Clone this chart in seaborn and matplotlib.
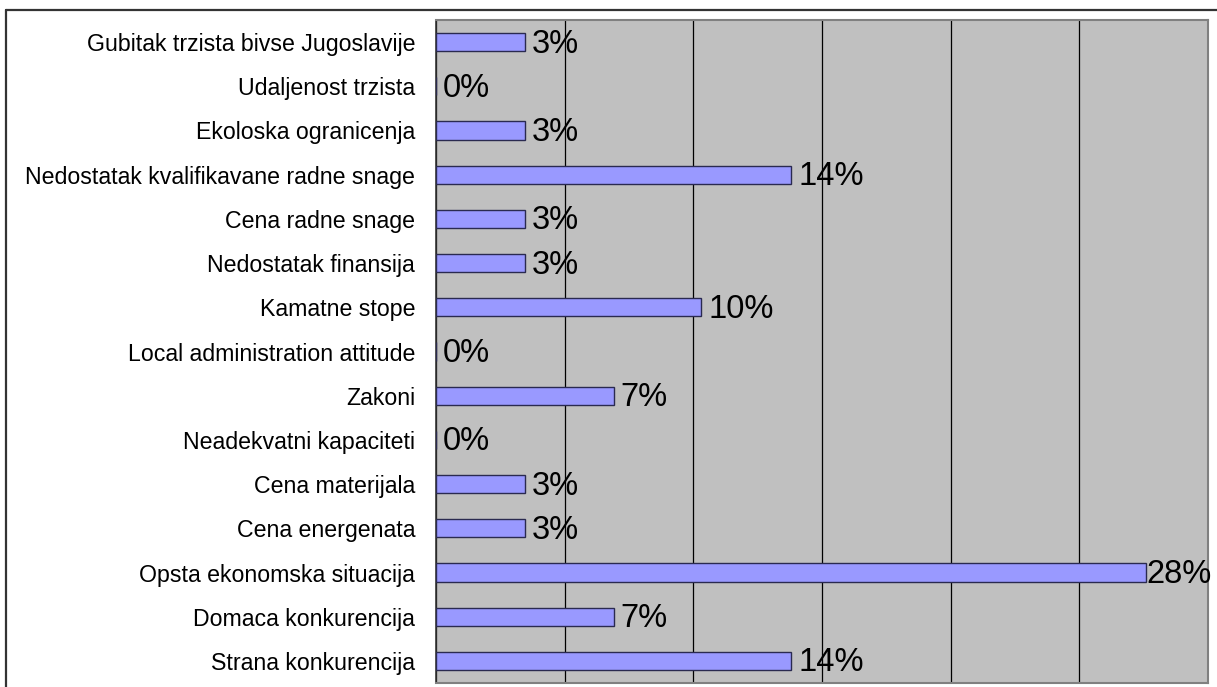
import pandas as pd
import seaborn as sns
import matplotlib.pyplot as plt
from matplotlib.lines import Line2D

# categories, top to bottom as in the chart
categories = [
    "Gubitak trzista bivse Jugoslavije",
    "Udaljenost trzista",
    "Ekoloska ogranicenja",
    "Nedostatak kvalifikavane radne snage",
    "Cena radne snage",
    "Nedostatak finansija",
    "Kamatne stope",
    "Local administration attitude",
    "Zakoni",
    "Neadekvatni kapaciteti",
    "Cena materijala",
    "Cena energenata",
    "Opsta ekonomska situacija",
    "Domaca konkurencija",
    "Strana konkurencija",
]
# percent of answers
percents = [3.45, 0, 3.45, 13.8, 3.45, 3.45, 10.3, 0, 6.9, 0, 3.45, 3.45, 27.6, 6.9, 13.8]
xticks = [0, 5, 10, 15, 20, 25, 30]

df = pd.DataFrame({"category": categories, "percent": percents})

sns.set_style("white")
plt.rcParams["font.family"] = ["Liberation Sans", "DejaVu Sans"]
plt.rcParams["text.color"] = "black"
plt.rcParams["ytick.labelcolor"] = "black"

W, H = 1217, 687
fig = plt.figure(figsize=(W / 100, H / 100), dpi=100)
ax = fig.add_axes([436 / W, 1 - 683 / H, (1208 - 436) / W, (683 - 20) / H])

sns.barplot(data=df, y="category", x="percent", order=categories, orient="h",
            color="#9999ff", saturation=1, width=0.41,
            edgecolor="#2a2a50", linewidth=1, ax=ax, zorder=3)

ax.set_facecolor("#c0c0c0")
ax.set_xlim(0, 30)
ax.set_ylim(len(categories) - 0.5, -0.5)
ax.set_xticks(xticks)
ax.set_xticklabels([])
ax.grid(axis="x", color="black", linewidth=0.9, zorder=1)
ax.tick_params(axis="x", length=0)
ax.set_xlabel("")
ax.set_ylabel("")

# y ticks at category boundaries, labels at centres
ax.set_yticks([i + 0.5 for i in range(-1, len(categories))], minor=True)
ax.tick_params(axis="y", which="minor", length=5, width=1, color="#333333", direction="out")
ax.tick_params(axis="y", which="major", length=0, pad=15, labelsize=16.7, labelcolor="black")

for side in ["top", "right", "bottom"]:
    ax.spines[side].set_color("#808080")
    ax.spines[side].set_linewidth(1.5)
ax.spines["left"].set_color("#333333")
ax.spines["left"].set_linewidth(1.2)

# value labels
for i, v in enumerate(percents):
    txt = f"{v:.0f}%"
    if v > 25:
        ax.annotate(txt, (30, i), xytext=(4, -2), textcoords="offset pixels",
                    ha="right", va="center", fontsize=23.5, color="black", zorder=5)
    else:
        ax.annotate(txt, (v, i), xytext=(7, -2), textcoords="offset pixels",
                    ha="left", va="center", fontsize=23.5, color="black", zorder=5)

# outer chart frame (right and bottom are cut off)
fig.add_artist(Line2D([6 / W, 1], [1 - 9.5 / H] * 2, transform=fig.transFigure,
                      color="#333333", linewidth=1.6))
fig.add_artist(Line2D([6 / W] * 2, [0, 1 - 9.5 / H], transform=fig.transFigure,
                      color="#333333", linewidth=1.6))

fig.savefig("out.png", dpi=100)
